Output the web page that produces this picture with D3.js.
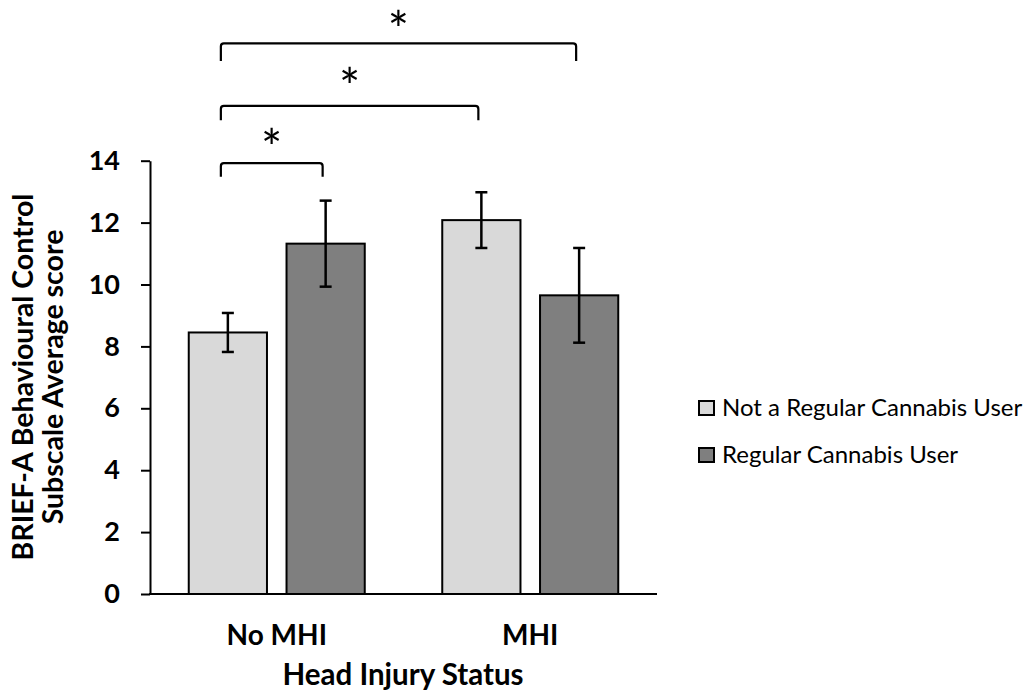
<!DOCTYPE html>
<html>
<head>
<meta charset="utf-8">
<script src="https://cdn.jsdelivr.net/npm/d3@7"></script>
<style>
  html, body { margin: 0; padding: 0; background: #fff; }
  svg { display: block; }
  text { font-family: Lato, "Open Sans", sans-serif; fill: #000; }
</style>
</head>
<body>
<svg id="chart" width="1031" height="698"></svg>
<script>
// ---- data ----
const categories = ["No MHI", "MHI"];
const seriesNames = ["Not a Regular Cannabis User", "Regular Cannabis User"];
const notRegularMeans = [8.45, 12.08];
const notRegularErrors = [0.63, 0.90];
const regularMeans = [11.32, 9.65];
const regularErrors = [1.39, 1.53];
const yTicks = [0, 2, 4, 6, 8, 10, 12, 14];
// significance brackets: [category index, series index] endpoints, bracket level, leg end, label level (score units)
const bracketFrom = [[0, 0], [0, 0], [0, 0]];
const bracketTo = [[0, 1], [1, 0], [1, 1]];
const bracketLevel = [13.92, 15.77, 17.79];
const bracketLegEnd = [13.48, 15.31, 17.22];
const bracketLabelLevel = [14.72, 16.70, 18.52];
const bracketLabel = ["*", "*", "*"];

const yTitleLines = ["BRIEF-A Behavioural Control", "Subscale Average score"];
const xTitle = "Head Injury Status";

// ---- layout ----
const svg = d3.select("#chart");
const x0 = d3.scaleBand().domain(categories).range([150, 657]).paddingInner(0).paddingOuter(0);
const x1 = d3.scaleBand().domain(seriesNames).range([-88, 88]).paddingInner(0.2);
const y = d3.scaleLinear().domain([0, 14]).range([594, 160.7]);
const fills = { [seriesNames[0]]: "#d9d9d9", [seriesNames[1]]: "#7f7f7f" };

const rows = [];
categories.forEach((c, i) => {
  rows.push({ cat: c, ser: seriesNames[0], v: notRegularMeans[i], e: notRegularErrors[i] });
  rows.push({ cat: c, ser: seriesNames[1], v: regularMeans[i], e: regularErrors[i] });
});
const cx = d => x0(d.cat) + x0.bandwidth() / 2 + x1(d.ser) + x1.bandwidth() / 2;

// bars
svg.append("g").selectAll("rect").data(rows).join("rect")
  .attr("x", d => x0(d.cat) + x0.bandwidth() / 2 + x1(d.ser))
  .attr("y", d => y(d.v))
  .attr("width", x1.bandwidth())
  .attr("height", d => y(0) - y(d.v))
  .attr("fill", d => fills[d.ser])
  .attr("stroke", "#000")
  .attr("stroke-width", 2);

// error bars
const eg = svg.append("g").attr("stroke", "#000").attr("stroke-width", 2.5);
rows.forEach(d => {
  const xc = cx(d);
  eg.append("line").attr("x1", xc).attr("x2", xc).attr("y1", y(d.v + d.e)).attr("y2", y(d.v - d.e));
  eg.append("line").attr("x1", xc - 6).attr("x2", xc + 6).attr("y1", y(d.v + d.e)).attr("y2", y(d.v + d.e));
  eg.append("line").attr("x1", xc - 6).attr("x2", xc + 6).attr("y1", y(d.v - d.e)).attr("y2", y(d.v - d.e));
});

// y axis
const yAxis = svg.append("g").attr("transform", "translate(150,0)")
  .call(d3.axisLeft(y).tickValues(yTicks).tickSize(9).tickSizeOuter(0).tickPadding(21));
yAxis.select(".domain").attr("stroke", "#000").attr("stroke-width", 2);
yAxis.selectAll(".tick line").attr("stroke", "#000").attr("stroke-width", 2);
yAxis.selectAll(".tick text").attr("font-size", 27).attr("font-weight", "bold")
  .attr("font-family", "Lato, sans-serif").attr("fill", "#000");

// x axis line
svg.append("line").attr("x1", 149).attr("x2", 657).attr("y1", y(0)).attr("y2", y(0))
  .attr("stroke", "#000").attr("stroke-width", 2);

// category labels
svg.append("g").selectAll("text").data(categories).join("text")
  .attr("x", d => x0(d) + x0.bandwidth() / 2)
  .attr("y", 645)
  .attr("text-anchor", "middle")
  .attr("font-size", 28).attr("font-weight", "bold")
  .text(d => d);

// x title
svg.append("text").attr("x", 403).attr("y", 685).attr("text-anchor", "middle")
  .attr("font-size", 29.5).attr("font-weight", "bold").text(xTitle);

// y title
const yt = svg.append("text").attr("transform", "translate(33,377) rotate(-90)")
  .attr("text-anchor", "middle").attr("font-size", 28.5).attr("font-weight", "bold");
yTitleLines.forEach((l, i) => yt.append("tspan").attr("x", 0).attr("dy", i === 0 ? 0 : 30).text(l));

// brackets
const bg = svg.append("g");
bracketFrom.forEach((f, i) => {
  const a = { cat: categories[f[0]], ser: seriesNames[f[1]] };
  const b = { cat: categories[bracketTo[i][0]], ser: seriesNames[bracketTo[i][1]] };
  const xa = cx(a) - 7, xb = cx(b) - 3;
  const yl = y(bracketLevel[i]), ye = y(bracketLegEnd[i]), r = 3;
  const p = `M${xa},${ye} L${xa},${yl + r} Q${xa},${yl} ${xa + r},${yl} L${xb - r},${yl} Q${xb},${yl} ${xb},${yl + r} L${xb},${ye}`;
  bg.append("path").attr("d", p).attr("fill", "none").attr("stroke", "#000").attr("stroke-width", 2.2);
  const t = bg.append("text").attr("x", (xa + xb) / 2).attr("y", 0).attr("text-anchor", "middle")
    .attr("font-size", 50).text(bracketLabel[i]);
  const bb = t.node().getBBox();
  // glyph ink is roughly the upper part of the box; center the asterisk on its level
  const inkCenter = bb.y + bb.height * 0.36;
  t.attr("y", y(bracketLabelLevel[i]) - inkCenter);
});

// legend
const lg = svg.append("g");
seriesNames.forEach((s, i) => {
  const yy = 401 + i * 47;
  lg.append("rect").attr("x", 699).attr("y", yy).attr("width", 15).attr("height", 14)
    .attr("fill", fills[s]).attr("stroke", "#000").attr("stroke-width", 2);
  lg.append("text").attr("x", 722).attr("y", yy + 14.5).attr("font-size", 24).text(s);
});
</script>
</body>
</html>
